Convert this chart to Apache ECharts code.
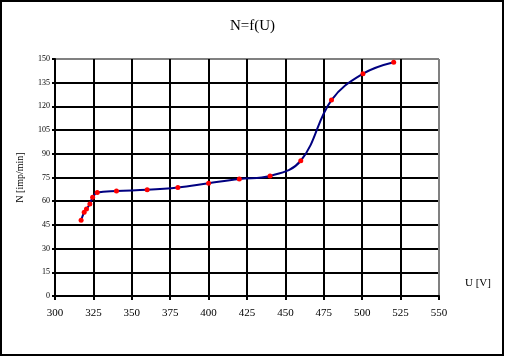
<!DOCTYPE html>
<html><head><meta charset="utf-8">
<script src="https://cdn.jsdelivr.net/npm/echarts@6/dist/echarts.min.js"></script>
<style>html,body{margin:0;padding:0;background:#fff}#c{width:505px;height:357px}</style>
</head><body><div id="c"></div>
<script>
const U = [317, 319, 320.5, 322.7, 324.5, 327.5, 340, 360, 380, 400, 420, 440, 460, 480, 500.5, 520.5];
const N = [48, 53, 55, 58.3, 62.5, 65.5, 66.5, 67.2, 68.7, 71.4, 74, 76, 85.6, 124, 140.7, 148];
const xTicks = [300, 325, 350, 375, 400, 425, 450, 475, 500, 525, 550];
const yTicks = [0, 15, 30, 45, 60, 75, 90, 105, 120, 135, 150];
const title = 'N=f(U)';
const xName = 'U [V]';
const yName = 'N [imp/min]';

const chart = echarts.init(document.getElementById('c'), null, {renderer: 'canvas'});
const font = 'Liberation Serif';
const gridColorsX = xTicks.map((v, i) => i === xTicks.length - 1 ? '#808080' : '#000');
const gridColorsY = yTicks.map((v, i) => i === yTicks.length - 1 ? '#808080' : '#000');
chart.setOption({
  animation: false,
  backgroundColor: '#fff',
  title: {text: title, left: 'center', top: 14, textStyle: {fontFamily: font, fontSize: 15, fontWeight: 'normal', color: '#000'}},
  grid: {left: 55, right: 66, top: 59, bottom: 61},
  graphic: [
    {type: 'rect', shape: {x: 1, y: 1, width: 502, height: 354}, style: {fill: 'none', stroke: '#000', lineWidth: 2}, silent: true, z: 100},
    {type: 'text', left: 465, top: 278, style: {text: xName, font: '11px "Liberation Serif"', fill: '#000'}}
  ],
  xAxis: {
    type: 'value', min: xTicks[0], max: xTicks[xTicks.length - 1], interval: 25,
    axisLine: {show: true, lineStyle: {color: '#000', width: 2}},
    axisTick: {show: true, length: 4, lineStyle: {color: '#000', width: 2}},
    axisLabel: {fontFamily: font, fontSize: 11, color: '#000', margin: 12},
    splitLine: {show: true, lineStyle: {color: gridColorsX, width: 2}}
  },
  yAxis: {
    type: 'value', min: yTicks[0], max: yTicks[yTicks.length - 1], interval: 15,
    name: yName, nameLocation: 'middle', nameGap: 30, nameRotate: 90,
    nameTextStyle: {fontFamily: font, fontSize: 10, color: '#000'},
    axisLine: {show: true, lineStyle: {color: '#000', width: 2}},
    axisTick: {show: true, length: 3, lineStyle: {color: '#000', width: 2}},
    axisLabel: {fontFamily: font, fontSize: 8, color: '#000', margin: 5},
    splitLine: {show: true, lineStyle: {color: gridColorsY, width: 2}}
  },
  series: [{
    type: 'line',
    data: U.map((u, i) => [u, N[i]]),
    smooth: 0.4,
    lineStyle: {color: '#000080', width: 2},
    symbol: 'circle', symbolSize: 5,
    itemStyle: {color: '#ff0000', borderWidth: 0},
    z: 5
  }]
});
</script></body></html>
